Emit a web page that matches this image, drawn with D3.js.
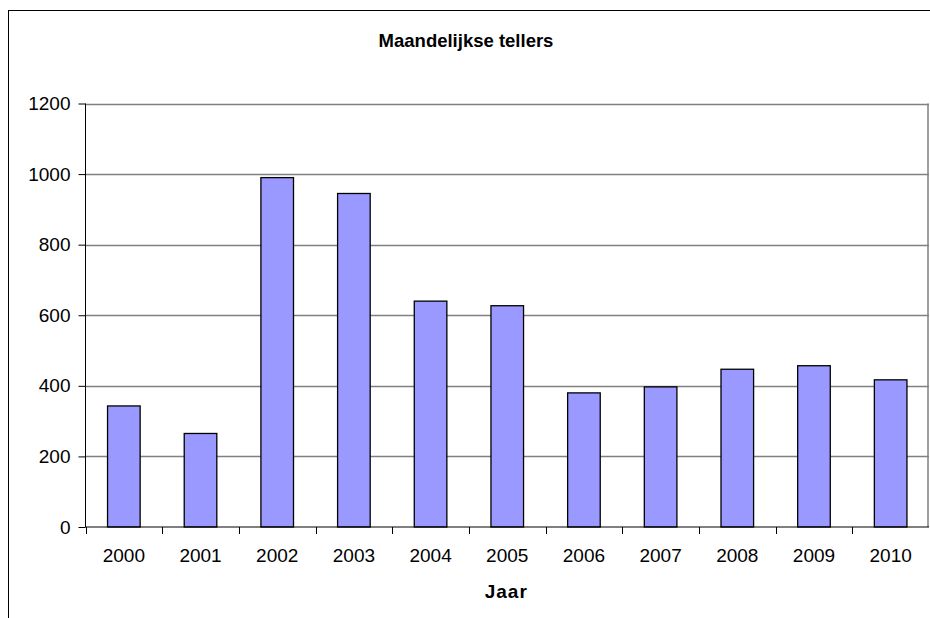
<!DOCTYPE html>
<html>
<head>
<meta charset="utf-8">
<script src="https://cdn.jsdelivr.net/npm/d3@7"></script>
<style>
  body { margin: 0; background: #fff; }
  text { font-family: "Liberation Sans", Arial, sans-serif; }
</style>
</head>
<body>
<div id="chart"></div>
<script>
const years = ["2000", "2001", "2002", "2003", "2004", "2005", "2006", "2007", "2008", "2009", "2010"];
const counts = [343, 265, 990, 945, 640, 627, 380, 397, 447, 457, 417];
const yTicks = [0, 200, 400, 600, 800, 1000, 1200];

const width = 930;
const height = 618;
const margin = { top: 103.5, right: 1, bottom: 91, left: 85.5 };

const svg = d3
  .select("#chart")
  .append("svg")
  .attr("width", width)
  .attr("height", height);

// outer chart border
svg.append("rect")
  .attr("x", 8.5)
  .attr("y", 10.5)
  .attr("width", 940)
  .attr("height", 700)
  .attr("fill", "none")
  .attr("stroke", "#000");

const x = d3.scaleBand()
  .domain(years)
  .range([margin.left, width - margin.right]);

const y = d3.scaleLinear()
  .domain([0, 1200])
  .range([height - margin.bottom, margin.top]);

// gridlines
svg.append("g")
  .selectAll("line")
  .data(yTicks.filter((d) => d > 0))
  .enter()
  .append("line")
  .attr("x1", margin.left)
  .attr("x2", width - margin.right)
  .attr("y1", (d) => Math.round(y(d)) + 0.5)
  .attr("y2", (d) => Math.round(y(d)) + 0.5)
  .attr("stroke", "#808080")
  .attr("stroke-width", 1.5);

// right plot edge
svg.append("line")
  .attr("x1", width - margin.right - 1)
  .attr("x2", width - margin.right - 1)
  .attr("y1", y(1200))
  .attr("y2", y(0))
  .attr("stroke", "#808080")
  .attr("stroke-width", 1.5);

// bars
const barW = x.bandwidth() * 0.425;
svg.append("g")
  .selectAll("rect")
  .data(years)
  .enter()
  .append("rect")
  .attr("x", (d) => x(d) + (x.bandwidth() - barW) / 2)
  .attr("y", (d, i) => y(counts[i]))
  .attr("width", barW)
  .attr("height", (d, i) => y(0) - y(counts[i]))
  .attr("fill", "#9999ff")
  .attr("stroke", "#000")
  .attr("stroke-width", 1.3);

// y axis
const yAxis = svg.append("g")
  .attr("transform", `translate(${margin.left},0)`)
  .call(d3.axisLeft(y).tickValues(yTicks).tickSize(7).tickPadding(8).tickFormat(d3.format("d")));
yAxis.select(".domain").attr("stroke", "#000").attr("d", `M0,${y(1200)}V${y(0)}`);
yAxis.selectAll(".tick line").attr("stroke", "#000");
yAxis.selectAll("text")
  .attr("font-family", "Liberation Sans, Arial, sans-serif")
  .style("font-size", "19px")
  .attr("fill", "#000");

// x axis
const xAxis = svg.append("g")
  .attr("transform", `translate(0,${y(0)})`)
  .call(d3.axisBottom(x).tickSize(0).tickPadding(22));
xAxis.select(".domain").attr("stroke", "#000").attr("d", `M${margin.left},0H${width - margin.right}`);
xAxis.selectAll("text")
  .attr("font-family", "Liberation Sans, Arial, sans-serif")
  .style("font-size", "19px")
  .attr("fill", "#000");

// category separators
svg.append("g")
  .selectAll("line")
  .data(years)
  .enter()
  .append("line")
  .attr("x1", (d) => Math.round(x(d)) + 0.5)
  .attr("x2", (d) => Math.round(x(d)) + 0.5)
  .attr("y1", y(0))
  .attr("y2", y(0) + 7)
  .attr("stroke", "#000");

svg.append("text")
  .attr("x", (margin.left + width - margin.right) / 2 - 1)
  .attr("y", 598)
  .attr("text-anchor", "middle")
  .style("font-size", "19px")
  .style("font-weight", "bold")
  .style("letter-spacing", "1px")
  .text("Jaar");

svg.append("text")
  .attr("x", 466)
  .attr("y", 47)
  .attr("text-anchor", "middle")
  .style("font-size", "18.5px")
  .style("font-weight", "bold")
  .text("Maandelijkse tellers");
</script>
</body>
</html>
